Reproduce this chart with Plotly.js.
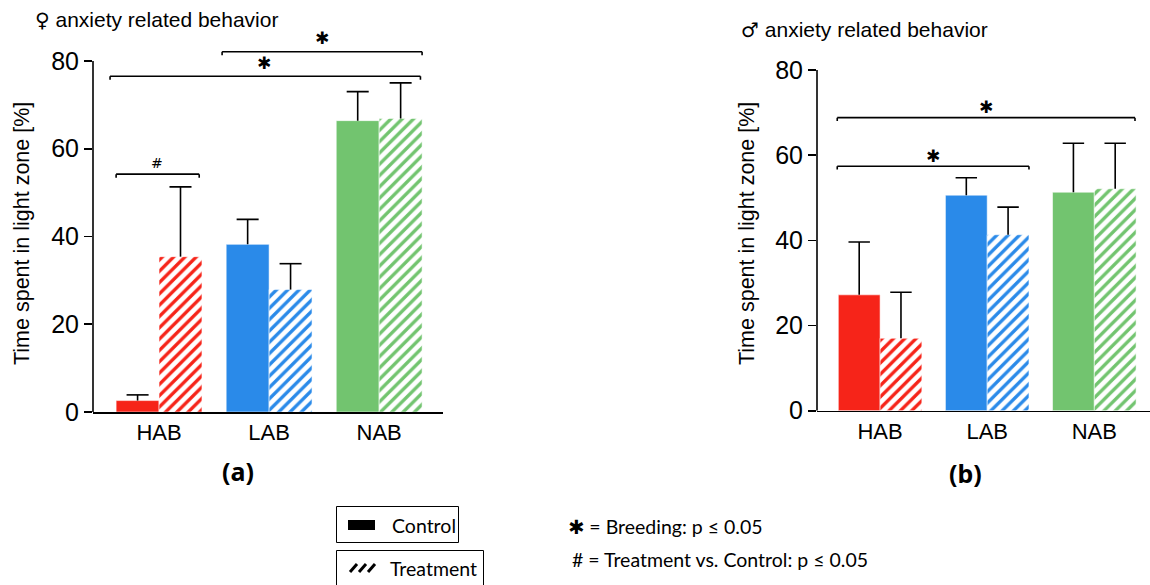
<!DOCTYPE html>
<html>
<head>
<meta charset="utf-8">
<script src="https://cdn.plot.ly/plotly-3.0.1.min.js"></script>
<style>html,body{margin:0;padding:0;background:#fff;}#chart{width:1150px;height:585px;}</style>
</head>
<body>
<div id="chart"></div>
<script>
// ---- data ----
const categories = ['HAB', 'LAB', 'NAB'];
const femaleControl = [2.6, 38.2, 66.4];
const femaleControlErr = [1.3, 5.7, 6.6];
const femaleTreatment = [35.4, 27.9, 66.9];
const femaleTreatmentErr = [15.9, 5.9, 8.1];
const maleControl = [27.2, 50.6, 51.3];
const maleControlErr = [12.4, 4.1, 11.5];
const maleTreatment = [17.0, 41.3, 52.1];
const maleTreatmentErr = [10.8, 6.5, 10.7];
const yTicks = [0, 20, 40, 60, 80];

// ---- styles ----
const groupColors = ['#F62419', '#2A8AE9', '#72C46F'];
const W = 1150, H = 585;
const px = v => v / W;
const py = v => 1 - v / H;
const pos = categories.map((c, i) => i);
const BARGAP = 0.22;
const barOffset = (1 - BARGAP) / 4;   // centre offset of each of the two grouped bars
const capHalf = 0.1;

function barTrace(vals, hatched, xa, ya) {
  const t = {
    type: 'bar', x: pos, y: vals, xaxis: xa, yaxis: ya,
    marker: {color: groupColors, line: {color: 'rgba(255,255,255,0.55)', width: 1}},
    hoverinfo: 'none'
  };
  if (hatched) {
    t.marker.pattern = {shape: '/', fillmode: 'replace',
      bgcolor: groupColors, fgcolor: groupColors.map(() => '#ffffff'),
      fgopacity: 1, size: 8, solidity: 0.42};
  }
  return t;
}
// upward-only error whiskers (no lower cap)
function whiskerTrace(vals, errs, side, xa, ya) {
  const xs = [], ys = [];
  vals.forEach((v, i) => {
    const xc = pos[i] + side * barOffset;
    const top = v + errs[i];
    xs.push(xc, xc, null, xc - capHalf, xc + capHalf, null);
    ys.push(v, top, null, top, top, null);
  });
  return {type: 'scatter', mode: 'lines', x: xs, y: ys, xaxis: xa, yaxis: ya,
          line: {color: '#000', width: 1.6}, hoverinfo: 'none', connectgaps: false};
}

const data = [
  barTrace(femaleControl, false, 'x', 'y'),
  barTrace(femaleTreatment, true, 'x', 'y'),
  barTrace(maleControl, false, 'x2', 'y2'),
  barTrace(maleTreatment, true, 'x2', 'y2'),
  whiskerTrace(femaleControl, femaleControlErr, -1, 'x', 'y'),
  whiskerTrace(femaleTreatment, femaleTreatmentErr, 1, 'x', 'y'),
  whiskerTrace(maleControl, maleControlErr, -1, 'x2', 'y2'),
  whiskerTrace(maleTreatment, maleTreatmentErr, 1, 'x2', 'y2')
];

const tickFontY = {family: 'Liberation Sans, Arial, sans-serif', size: 25, color: '#000'};
const tickFontX = {family: 'Liberation Sans, Arial, sans-serif', size: 22, color: '#000'};

function xAxis(domain, range, anchor) {
  return {domain: domain, range: range, anchor: anchor, type: 'linear',
          tickvals: pos, ticktext: categories, ticks: '', showgrid: false, zeroline: false,
          showline: true, linecolor: '#000', linewidth: 1.6, tickfont: tickFontX, fixedrange: true};
}
function yAxis(domain, anchor) {
  return {domain: domain, range: [0, 84], anchor: anchor, tickvals: yTicks, ticks: 'outside',
          ticklen: 8, tickwidth: 1.6, tickcolor: '#000', showgrid: false, zeroline: false,
          showline: false, tickfont: tickFontY, fixedrange: true};
}

// brackets: [xaxis, yaxis, xStart, xEnd, level, label, labelX, labelShiftPx]
const brackets = [
  ['x', 'y', -0.39, 0.365, 54.2, '#', -0.02, 11],
  ['x', 'y', -0.445, 2.375, 76.5, '✱', 0.955, 13],
  ['x', 'y', 0.573, 2.39, 82.1, '✱', 1.48, 13.5],
  ['x2', 'y2', -0.40, 2.38, 68.8, '✱', 0.99, 11],
  ['x2', 'y2', -0.40, 1.39, 57.4, '✱', 0.495, 10]
];

const shapes = [];
const annotations = [];
const lineStyle = {color: '#000', width: 1.6};

// y axis lines stopping at 80
[['x', 'y'], ['x2', 'y2']].forEach(([xa, ya]) => {
  shapes.push({type: 'line', xref: xa + ' domain', yref: ya, x0: 0, x1: 0, y0: 0, y1: 80, line: lineStyle});
});

brackets.forEach(b => {
  const [xa, ya, x0, x1, lv, lab, lx, shift] = b;
  const d = 0.8;
  shapes.push({type: 'line', xref: xa, yref: ya, x0: x0, x1: x1, y0: lv, y1: lv, line: lineStyle});
  shapes.push({type: 'line', xref: xa, yref: ya, x0: x0, x1: x0, y0: lv - d, y1: lv, line: lineStyle});
  shapes.push({type: 'line', xref: xa, yref: ya, x0: x1, x1: x1, y0: lv - d, y1: lv, line: lineStyle});
  annotations.push({xref: xa, yref: ya, x: lx, y: lv, yshift: shift, text: lab, showarrow: false,
    xanchor: 'center', yanchor: 'middle',
    font: lab === '#' ? {family: 'DejaVu Sans, sans-serif', size: 14, color: '#000'}
                      : {family: 'DejaVu Sans, sans-serif', size: 17, color: '#000'}});
});

const titleFont = {family: 'Liberation Sans, Arial, sans-serif', size: 21, color: '#000'};
const axTitleFont = {family: 'Liberation Sans, Arial, sans-serif', size: 21.5, color: '#000'};
const panelFont = {family: 'Noto Sans, sans-serif', size: 25, color: '#000'};
const legendFont = {family: 'Lato, sans-serif', size: 19.5, color: '#000'};
const sym = s => '<span style="font-family:DejaVu Sans;font-size:20px">' + s + '</span>';

annotations.push(
  {xref: 'paper', yref: 'paper', x: px(33), y: py(20), xanchor: 'left', yanchor: 'middle', showarrow: false,
   text: sym('♀') + ' anxiety related behavior', font: titleFont},
  {xref: 'paper', yref: 'paper', x: px(739), y: py(30), xanchor: 'left', yanchor: 'middle', showarrow: false,
   text: sym('♂') + ' anxiety related behavior', font: titleFont},
  {xref: 'paper', yref: 'paper', x: px(22), y: py(234), xanchor: 'center', yanchor: 'middle', showarrow: false,
   textangle: -90, text: 'Time spent in light zone [%]', font: axTitleFont},
  {xref: 'paper', yref: 'paper', x: px(747), y: py(234), xanchor: 'center', yanchor: 'middle', showarrow: false,
   textangle: -90, text: 'Time spent in light zone [%]', font: axTitleFont},
  {xref: 'paper', yref: 'paper', x: px(238), y: py(471), xanchor: 'center', yanchor: 'middle', showarrow: false,
   text: '<b>(a)</b>', font: panelFont},
  {xref: 'paper', yref: 'paper', x: px(965), y: py(473), xanchor: 'center', yanchor: 'middle', showarrow: false,
   text: '<b>(b)</b>', font: panelFont},
  {xref: 'paper', yref: 'paper', x: px(390), y: py(525), xanchor: 'left', yanchor: 'middle', showarrow: false,
   text: 'Control', font: legendFont},
  {xref: 'paper', yref: 'paper', x: px(388), y: py(568), xanchor: 'left', yanchor: 'middle', showarrow: false,
   text: 'Treatment', font: legendFont},
  {xref: 'paper', yref: 'paper', x: px(566), y: py(527), xanchor: 'left', yanchor: 'middle', showarrow: false,
   text: '<span style="font-family:DejaVu Sans">✱</span> = Breeding: p ≤ 0.05', font: legendFont},
  {xref: 'paper', yref: 'paper', x: px(570), y: py(559), xanchor: 'left', yanchor: 'middle', showarrow: false,
   text: '# = Treatment vs. Control: p ≤ 0.05', font: legendFont}
);

// legend boxes
shapes.push(
  {type: 'rect', xref: 'paper', yref: 'paper', x0: px(336.5), x1: px(458.5), y0: py(542.5), y1: py(506.5),
   line: {color: '#000', width: 1}},
  {type: 'rect', xref: 'paper', yref: 'paper', x0: px(348), x1: px(375), y0: py(530), y1: py(520),
   fillcolor: '#000', line: {width: 0}},
  {type: 'rect', xref: 'paper', yref: 'paper', x0: px(336.5), x1: px(483.5), y0: py(592), y1: py(550.5),
   line: {color: '#000', width: 1}}
);
[350, 359, 368].forEach(x => {
  shapes.push({type: 'line', xref: 'paper', yref: 'paper', x0: px(x), x1: px(x + 7), y0: py(572), y1: py(564),
    line: {color: '#000', width: 3}});
});

const layout = {
  width: W, height: H,
  margin: {l: 0, r: 0, t: 0, b: 0},
  paper_bgcolor: '#fff', plot_bgcolor: '#fff',
  showlegend: false,
  barmode: 'group', bargap: BARGAP, bargroupgap: 0,
  xaxis: xAxis([px(93), px(443)], [-0.6, 2.58], 'y'),
  yaxis: yAxis([py(412), py(43.4)], 'x'),
  xaxis2: xAxis([px(817), 1], [-0.589, 2.52], 'y2'),
  yaxis2: yAxis([py(410.7), py(52.9)], 'x2'),
  shapes: shapes,
  annotations: annotations
};

Plotly.newPlot('chart', data, layout, {staticPlot: true, displayModeBar: false});
</script>
</body>
</html>
